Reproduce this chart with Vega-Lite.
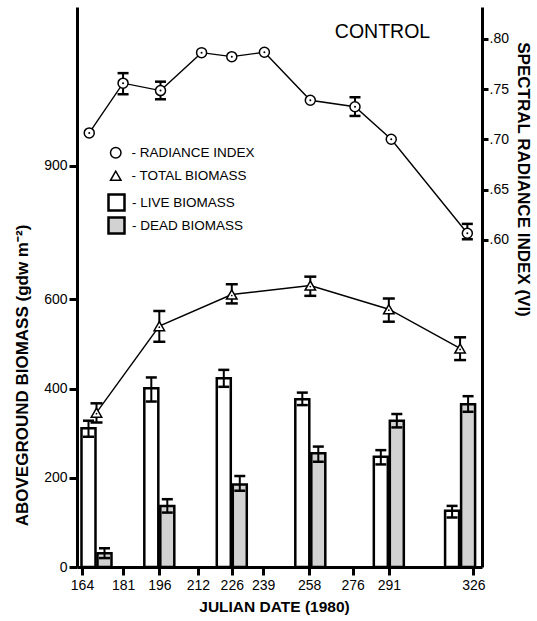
{
  "$schema": "https://vega.github.io/schema/vega-lite/v6.json",
  "width": 405,
  "height": 560,
  "autosize": {"type": "none"},
  "padding": {"left": 77, "top": 7, "right": 55, "bottom": 54},
  "background": "white",
  "title": {"text": "CONTROL", "anchor": "middle", "frame": "group", "orient": "top", "offset": 0, "dx": 103, "dy": 44, "baseline": "middle", "fontSize": 19.5, "fontWeight": "normal", "font": "Liberation Sans", "color": "black"},
  "config": {
    "view": {"stroke": null},
    "font": "Liberation Sans",
    "axis": {"domainColor": "black", "domainWidth": 3, "tickColor": "black", "tickWidth": 3, "tickSize": 8, "labelColor": "black", "labelFontSize": 14, "labelFont": "Liberation Sans", "titleColor": "black", "titleFontSize": 15.5, "titleFont": "Liberation Sans", "titleFontWeight": "bold", "grid": false},
    "legend": {"labelFontSize": 13.5, "labelColor": "black", "labelFont": "Liberation Sans", "padding": 0}
  },
  "datasets": {
    "bio": [
      {"date": 170, "live": 311, "liveLo": 292, "liveHi": 328, "dead": 31, "deadLo": 20, "deadHi": 42, "total": 346, "totalLo": 324, "totalHi": 367},
      {"date": 196, "live": 401, "liveLo": 371, "liveHi": 425, "dead": 137, "deadLo": 122, "deadHi": 152, "total": 540, "totalLo": 505, "totalHi": 574},
      {"date": 226, "live": 423, "liveLo": 404, "liveHi": 442, "dead": 185, "deadLo": 171, "deadHi": 204, "total": 611, "totalLo": 591, "totalHi": 634},
      {"date": 258.5, "live": 376, "liveLo": 363, "liveHi": 391, "dead": 255, "deadLo": 236, "deadHi": 270, "total": 631, "totalLo": 608, "totalHi": 651},
      {"date": 291, "live": 247, "liveLo": 230, "liveHi": 262, "dead": 328, "deadLo": 313, "deadHi": 343, "total": 578, "totalLo": 550, "totalHi": 602},
      {"date": 320.5, "live": 126, "liveLo": 111, "liveHi": 137, "dead": 365, "deadLo": 348, "deadHi": 383, "total": 490, "totalLo": 464, "totalHi": 515}
    ],
    "vi": [
      {"date": 167, "vi": 0.7065, "lo": null, "hi": null},
      {"date": 181, "vi": 0.756, "lo": 0.745, "hi": 0.766},
      {"date": 196.5, "vi": 0.7486, "lo": 0.740, "hi": 0.7575},
      {"date": 213.5, "vi": 0.7864, "lo": null, "hi": null},
      {"date": 226, "vi": 0.7824, "lo": null, "hi": null},
      {"date": 239.5, "vi": 0.7868, "lo": null, "hi": null},
      {"date": 258.5, "vi": 0.739, "lo": null, "hi": null},
      {"date": 277, "vi": 0.7326, "lo": 0.7234, "hi": 0.742},
      {"date": 292, "vi": 0.7002, "lo": null, "hi": null},
      {"date": 323.5, "vi": 0.6067, "lo": 0.6007, "hi": 0.616}
    ]
  },
  "layer": [
    {
      "data": {"name": "bio"},
      "layer": [
        {
          "mark": {"type": "bar", "width": 14, "xOffset": -8, "stroke": "black", "strokeWidth": 2.5},
          "encoding": {
            "x": {"field": "date", "type": "quantitative", "scale": {"domain": [164, 327.5], "nice": false, "zero": false},
                  "axis": {"values": [164, 181, 196, 212, 226, 239, 258, 276, 291, 326], "format": "d", "labelPadding": 3, "title": "JULIAN DATE (1980)", "titleX": 197, "titleY": 39, "titleBaseline": "middle", "titleAlign": "center"}},
            "y": {"field": "live", "type": "quantitative", "title": "ABOVEGROUND BIOMASS   (gdw m⁻²)", "scale": {"domain": [0, 1255.6], "nice": false},
                  "axis": {"values": [0, 200, 400, 600, 900], "labelPadding": 2, "titleFontSize": 17, "titleX": -55, "titleY": 368, "titleBaseline": "middle", "titleAlign": "center"}},
            "fill": {"datum": "LIVE BIOMASS", "type": "nominal", "scale": {"domain": ["LIVE BIOMASS", "DEAD BIOMASS"], "range": ["white", "#d2d2d2"]},
                     "legend": {"title": null, "orient": "none", "legendX": 30, "legendY": 186, "symbolType": "square", "symbolSize": 256, "symbolStrokeColor": "black", "symbolStrokeWidth": 2.5, "labelExpr": "'- ' + datum.label", "rowPadding": -6, "labelOffset": 6}}
          }
        },
        {
          "mark": {"type": "bar", "width": 14, "xOffset": 8, "stroke": "black", "strokeWidth": 2.5},
          "encoding": {
            "x": {"field": "date", "type": "quantitative"},
            "y": {"field": "dead", "type": "quantitative", "title": "ABOVEGROUND BIOMASS   (gdw m⁻²)"},
            "fill": {"datum": "DEAD BIOMASS", "type": "nominal"}
          }
        },
        {
          "mark": {"type": "rule", "xOffset": -8, "strokeWidth": 2, "color": "black"},
          "encoding": {
            "x": {"field": "date", "type": "quantitative"},
            "y": {"field": "liveLo", "type": "quantitative", "title": "ABOVEGROUND BIOMASS   (gdw m⁻²)"},
            "y2": {"field": "liveHi"}
          }
        },
        {
          "transform": [{"fold": ["liveLo", "liveHi"], "as": ["k", "v"]}],
          "mark": {"type": "tick", "orient": "horizontal", "xOffset": -8, "size": 11, "thickness": 2.5, "color": "black", "opacity": 1},
          "encoding": {
            "x": {"field": "date", "type": "quantitative"},
            "y": {"field": "v", "type": "quantitative", "title": "ABOVEGROUND BIOMASS   (gdw m⁻²)"}
          }
        },
        {
          "mark": {"type": "rule", "xOffset": 8, "strokeWidth": 2, "color": "black"},
          "encoding": {
            "x": {"field": "date", "type": "quantitative"},
            "y": {"field": "deadLo", "type": "quantitative", "title": "ABOVEGROUND BIOMASS   (gdw m⁻²)"},
            "y2": {"field": "deadHi"}
          }
        },
        {
          "transform": [{"fold": ["deadLo", "deadHi"], "as": ["k", "v"]}],
          "mark": {"type": "tick", "orient": "horizontal", "xOffset": 8, "size": 11, "thickness": 2.5, "color": "black", "opacity": 1},
          "encoding": {
            "x": {"field": "date", "type": "quantitative"},
            "y": {"field": "v", "type": "quantitative", "title": "ABOVEGROUND BIOMASS   (gdw m⁻²)"}
          }
        },
        {
          "mark": {"type": "line", "color": "black", "strokeWidth": 1.4},
          "encoding": {
            "x": {"field": "date", "type": "quantitative"},
            "y": {"field": "total", "type": "quantitative", "title": "ABOVEGROUND BIOMASS   (gdw m⁻²)"}
          }
        },
        {
          "mark": {"type": "rule", "strokeWidth": 2, "color": "black"},
          "encoding": {
            "x": {"field": "date", "type": "quantitative"},
            "y": {"field": "totalLo", "type": "quantitative", "title": "ABOVEGROUND BIOMASS   (gdw m⁻²)"},
            "y2": {"field": "totalHi"}
          }
        },
        {
          "transform": [{"fold": ["totalLo", "totalHi"], "as": ["k", "v"]}],
          "mark": {"type": "tick", "orient": "horizontal", "size": 12, "thickness": 2.5, "color": "black", "opacity": 1},
          "encoding": {
            "x": {"field": "date", "type": "quantitative"},
            "y": {"field": "v", "type": "quantitative", "title": "ABOVEGROUND BIOMASS   (gdw m⁻²)"}
          }
        },
        {
          "mark": {"type": "point", "filled": true, "fill": "white", "stroke": "black", "strokeWidth": 1.5, "size": 110, "opacity": 1},
          "encoding": {
            "x": {"field": "date", "type": "quantitative"},
            "y": {"field": "total", "type": "quantitative", "title": "ABOVEGROUND BIOMASS   (gdw m⁻²)"},
            "shape": {"datum": "TOTAL BIOMASS", "type": "nominal"}
          }
        },
        {
          "mark": {"type": "point", "shape": "circle", "filled": true, "color": "black", "size": 3, "opacity": 1, "yOffset": 1},
          "encoding": {
            "x": {"field": "date", "type": "quantitative"},
            "y": {"field": "total", "type": "quantitative", "title": "ABOVEGROUND BIOMASS   (gdw m⁻²)"}
          }
        }
      ]
    },
    {
      "data": {"name": "vi"},
      "layer": [
        {
          "mark": {"type": "line", "color": "black", "strokeWidth": 1.4},
          "encoding": {
            "x": {"field": "date", "type": "quantitative"},
            "y": {"field": "vi", "type": "quantitative", "title": "SPECTRAL RADIANCE INDEX (VI)", "scale": {"domain": [0.2746, 0.8318], "nice": false, "zero": false},
                  "axis": {"orient": "right", "values": [0.6, 0.65, 0.7, 0.75, 0.8], "labelExpr": "replace(format(datum.value, '.2f'), '0.', '.')", "tickSize": 6, "labelPadding": 1, "titleFontSize": 17, "titleAngle": 90, "titleX": 40, "titleY": 172, "titleBaseline": "middle", "titleAlign": "center"}}
          }
        },
        {
          "transform": [{"filter": "isValid(datum.lo)"}],
          "mark": {"type": "rule", "strokeWidth": 2, "color": "black"},
          "encoding": {
            "x": {"field": "date", "type": "quantitative"},
            "y": {"field": "lo", "type": "quantitative", "title": "SPECTRAL RADIANCE INDEX (VI)"},
            "y2": {"field": "hi"}
          }
        },
        {
          "transform": [{"filter": "isValid(datum.lo)"}, {"fold": ["lo", "hi"], "as": ["k", "v"]}],
          "mark": {"type": "tick", "orient": "horizontal", "size": 11, "thickness": 2.5, "color": "black", "opacity": 1},
          "encoding": {
            "x": {"field": "date", "type": "quantitative"},
            "y": {"field": "v", "type": "quantitative", "title": "SPECTRAL RADIANCE INDEX (VI)"}
          }
        },
        {
          "mark": {"type": "point", "filled": true, "fill": "white", "stroke": "black", "strokeWidth": 1.5, "size": 100, "opacity": 1},
          "encoding": {
            "x": {"field": "date", "type": "quantitative"},
            "y": {"field": "vi", "type": "quantitative", "title": "SPECTRAL RADIANCE INDEX (VI)"},
            "shape": {"datum": "RADIANCE INDEX", "type": "nominal", "scale": {"domain": ["RADIANCE INDEX", "TOTAL BIOMASS"], "range": ["circle", "triangle-up"]},
                      "legend": {"title": null, "orient": "none", "legendX": 32, "legendY": 139, "symbolSize": 110, "symbolStrokeColor": "black", "symbolFillColor": "white", "symbolStrokeWidth": 1.5, "labelExpr": "'- ' + datum.label", "rowPadding": 7, "labelOffset": 9}}
          }
        },
        {
          "mark": {"type": "point", "shape": "circle", "filled": true, "color": "black", "size": 4, "opacity": 1},
          "encoding": {
            "x": {"field": "date", "type": "quantitative"},
            "y": {"field": "vi", "type": "quantitative", "title": "SPECTRAL RADIANCE INDEX (VI)"}
          }
        }
      ]
    }
  ],
  "resolve": {"scale": {"y": "independent"}, "axis": {"y": "independent"}}
}
